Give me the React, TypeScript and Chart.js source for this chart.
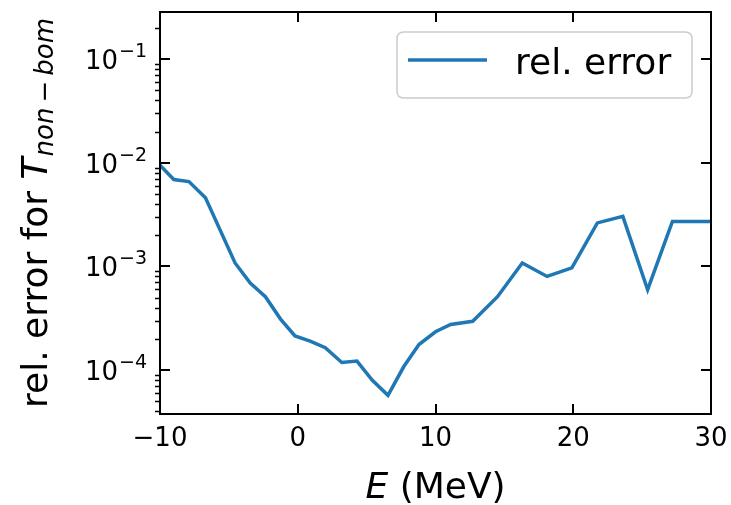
import React, { useEffect, useRef } from "react";
import { Chart, registerables } from "chart.js";

Chart.register(...registerables);

const energies = [-10, -9.0, -7.9, -6.7, -4.55, -3.45, -2.35, -1.25, -0.2, 0.9, 2.0, 3.2, 4.3, 5.4, 6.55, 7.7, 8.8, 10.0, 11.1, 12.7, 14.5, 16.3, 18.1, 19.9, 21.75, 23.6, 25.4, 27.2, 30];
const relErrors = [9.5e-3, 6.9e-3, 6.6e-3, 4.6e-3, 1.08e-3, 6.9e-4, 5.1e-4, 3.1e-4, 2.13e-4, 1.9e-4, 1.64e-4, 1.18e-4, 1.22e-4, 8.0e-5, 5.7e-5, 1.08e-4, 1.76e-4, 2.34e-4, 2.75e-4, 2.95e-4, 5.1e-4, 1.08e-3, 8.0e-4, 9.7e-4, 2.63e-3, 3.04e-3, 5.96e-4, 2.72e-3, 2.72e-3];
const seriesLabel = "rel. error";

const xTickValues = [-10, 0, 10, 20, 30];
const xTickLabels = ["\u221210", "0", "10", "20", "30"];
const yTickValues = [1e-4, 1e-3, 1e-2, 1e-1];
const yTickExponents = ["\u22124", "\u22123", "\u22122", "\u22121"];

const X_MIN = -10;
const X_MAX = 30;
const Y_MIN = 3.76e-5;
const Y_MAX = 0.286;

const FONT = '"DejaVu Sans"';
const LINE_COLOR = "#1f77b4";

const decorPlugin = {
  id: "decor",
  afterDraw(chart: any) {
    const ctx = chart.ctx as CanvasRenderingContext2D;
    const { left, right, top, bottom } = chart.chartArea;
    const xs = chart.scales.x;
    const ys = chart.scales.y;
    ctx.save();
    // frame
    ctx.strokeStyle = "#000";
    ctx.lineWidth = 2;
    ctx.strokeRect(left, top, right - left, bottom - top);
    // x major ticks, inward, bottom and top
    const MAJ = 10;
    ctx.beginPath();
    xTickValues.forEach((v) => {
      const px = Math.round(xs.getPixelForValue(v));
      ctx.moveTo(px, bottom);
      ctx.lineTo(px, bottom - MAJ);
      ctx.moveTo(px, top);
      ctx.lineTo(px, top + MAJ);
    });
    // y major ticks inward left & right
    yTickValues.forEach((v) => {
      const py = Math.round(ys.getPixelForValue(v));
      ctx.moveTo(left, py);
      ctx.lineTo(left + MAJ, py);
      ctx.moveTo(right, py);
      ctx.lineTo(right - MAJ, py);
    });
    ctx.stroke();
    // y minor ticks outward on left
    ctx.beginPath();
    ctx.lineWidth = 1.5;
    for (let e = -5; e <= 0; e++) {
      for (let k = 2; k <= 9; k++) {
        const v = k * Math.pow(10, e);
        if (v < Y_MIN || v > Y_MAX) continue;
        const py = Math.round(ys.getPixelForValue(v)) + 0.5;
        ctx.moveTo(left, py);
        ctx.lineTo(left - 5, py);
      }
    }
    ctx.stroke();

    // y tick labels: 10^{-n}
    ctx.fillStyle = "#000";
    ctx.textBaseline = "alphabetic";
    yTickValues.forEach((v, i) => {
      const py = ys.getPixelForValue(v);
      const labelRight = left - 13;
      ctx.font = `19px ${FONT}`;
      ctx.textAlign = "right";
      const sup = yTickExponents[i];
      ctx.fillText(sup, labelRight, py - 2);
      const supW = ctx.measureText(sup).width;
      ctx.font = `26px ${FONT}`;
      ctx.fillText("10", labelRight - supW - 1, py + 10);
    });

    // x axis title: E (MeV)
    {
      const cx = (left + right) / 2;
      const baseline = 498;
      ctx.textAlign = "left";
      ctx.font = `italic 36px ${FONT}`;
      const w1 = ctx.measureText("E").width;
      ctx.font = `36px ${FONT}`;
      const w2 = ctx.measureText(" (MeV)").width;
      const x0 = cx - (w1 + w2) / 2;
      ctx.font = `italic 36px ${FONT}`;
      ctx.fillText("E", x0, baseline);
      ctx.font = `36px ${FONT}`;
      ctx.fillText(" (MeV)", x0 + w1, baseline);
    }

    // y axis title, rotated
    {
      const segs = [
        { t: "rel. error for ", f: `36px ${FONT}`, dy: 0, pad: 0 },
        { t: "T", f: `italic 36px ${FONT}`, dy: 0, pad: 1 },
        { t: "non", f: `italic 26px ${FONT}`, dy: 6, pad: 5 },
        { t: "\u2212", f: `26px ${FONT}`, dy: 6, pad: 5 },
        { t: "bom", f: `italic 26px ${FONT}`, dy: 6, pad: 0 },
      ];
      let total = 0;
      const widths: number[] = [];
      segs.forEach((s) => {
        ctx.font = s.f;
        const w = ctx.measureText(s.t).width;
        widths.push(w);
        total += w + s.pad;
      });
      ctx.translate(47, (top + bottom) / 2);
      ctx.rotate(-Math.PI / 2);
      let x = -total / 2;
      ctx.textAlign = "left";
      segs.forEach((s, i) => {
        ctx.font = s.f;
        ctx.fillText(s.t, x, s.dy);
        x += widths[i] + s.pad;
      });
      ctx.setTransform(1, 0, 0, 1, 0, 0);
    }

    // legend
    {
      const bx = 397, by = 32, bw = 295, bh = 66, r = 7;
      ctx.beginPath();
      ctx.moveTo(bx + r, by);
      ctx.lineTo(bx + bw - r, by);
      ctx.quadraticCurveTo(bx + bw, by, bx + bw, by + r);
      ctx.lineTo(bx + bw, by + bh - r);
      ctx.quadraticCurveTo(bx + bw, by + bh, bx + bw - r, by + bh);
      ctx.lineTo(bx + r, by + bh);
      ctx.quadraticCurveTo(bx, by + bh, bx, by + bh - r);
      ctx.lineTo(bx, by + r);
      ctx.quadraticCurveTo(bx, by, bx + r, by);
      ctx.closePath();
      ctx.fillStyle = "rgba(255,255,255,0.8)";
      ctx.fill();
      ctx.strokeStyle = "#cccccc";
      ctx.lineWidth = 1.5;
      ctx.stroke();
      const ds = chart.data.datasets[0];
      ctx.strokeStyle = ds.borderColor;
      ctx.lineWidth = 3.5;
      ctx.beginPath();
      ctx.moveTo(408, 60);
      ctx.lineTo(487, 60);
      ctx.stroke();
      ctx.fillStyle = "#000";
      ctx.font = `36px ${FONT}`;
      ctx.textAlign = "left";
      ctx.fillText(ds.label, 515, 74);
    }
    ctx.restore();
  },
};

export default function App() {
  const ref = useRef<HTMLCanvasElement | null>(null);
  useEffect(() => {
    if (!ref.current) return;
    const chart = new Chart(ref.current, {
      type: "line",
      data: {
        datasets: [
          {
            label: seriesLabel,
            data: energies.map((e, i) => ({ x: e, y: relErrors[i] })),
            borderColor: LINE_COLOR,
            backgroundColor: LINE_COLOR,
            borderWidth: 3.5,
            pointRadius: 0,
            tension: 0,
            fill: false,
          },
        ],
      },
      options: {
        responsive: false,
        animation: false,
        devicePixelRatio: 1,
        layout: { padding: { top: 12, right: 20, left: 0, bottom: 0 } },
        plugins: { legend: { display: false }, tooltip: { enabled: false }, title: { display: false } },
        scales: {
          x: {
            type: "linear",
            min: X_MIN,
            max: X_MAX,
            afterBuildTicks: (s: any) => {
              s.ticks = xTickValues.map((v) => ({ value: v }));
            },
            afterFit: (s: any) => {
              s.height = 91;
              s.paddingLeft = 0;
              s.paddingRight = 0;
            },
            ticks: {
              autoSkip: false,
              maxRotation: 0,
              padding: 10,
              color: "#000",
              font: { family: "DejaVu Sans", size: 26 },
              callback: (_v: any, i: number) => xTickLabels[i],
            },
            grid: { display: false, drawTicks: false },
            border: { display: false },
          },
          y: {
            type: "logarithmic",
            min: Y_MIN,
            max: Y_MAX,
            afterBuildTicks: (s: any) => {
              s.ticks = yTickValues.map((v) => ({ value: v }));
            },
            afterFit: (s: any) => {
              s.width = 160;
              s.paddingTop = 0;
              s.paddingBottom = 0;
            },
            ticks: { display: false },
            grid: { display: false, drawTicks: false },
            border: { display: false },
          },
        },
      },
      plugins: [decorPlugin],
    } as any);
    return () => chart.destroy();
  }, []);
  return (
    <div style={{ position: "fixed", left: 0, top: 0, width: 731, height: 505, background: "#fff" }}>
      <canvas ref={ref} width={731} height={505} style={{ display: "block" }} />
    </div>
  );
}
